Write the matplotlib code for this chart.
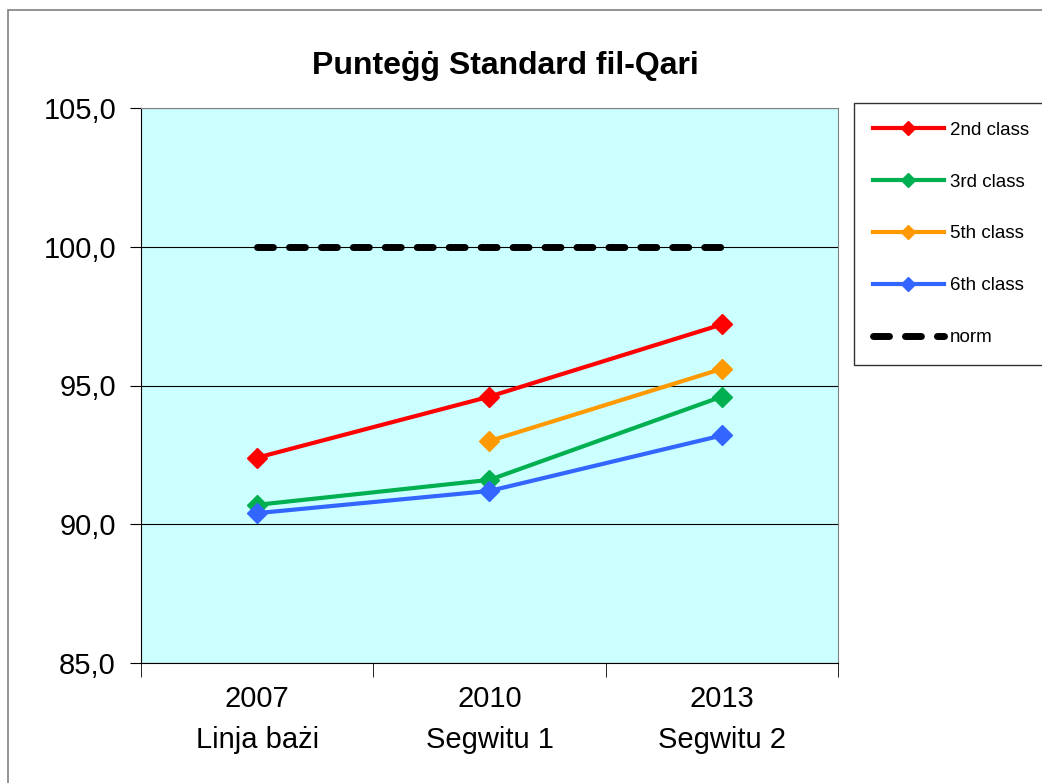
import matplotlib.pyplot as plt
from matplotlib.patches import Rectangle

plt.rcParams['font.family'] = ['Liberation Sans', 'DejaVu Sans']

years = ['2007', '2010', '2013']
stages = ['Linja bażi', 'Segwitu 1', 'Segwitu 2']
class2 = [92.4, 94.6, 97.2]
class3 = [90.7, 91.6, 94.6]
class5 = [None, 93.0, 95.6]
class6 = [90.4, 91.2, 93.2]
norm = [100.0, 100.0, 100.0]
yticks = [85, 90, 95, 100, 105]

fig = plt.figure(figsize=(10.42, 7.83), dpi=100)
fig.patches.append(Rectangle((8 / 1042, -0.1), 1.2, (783 - 10) / 783 + 0.1,
                             transform=fig.transFigure, fill=False,
                             edgecolor='#808080', linewidth=1.2))

ax = fig.add_axes([141 / 1042, 1 - 663 / 783, 697 / 1042, 555 / 783])
ax.set_facecolor('#CCFFFF')

x = list(range(len(years)))
series = [
    ('2nd class', class2, '#FF0000'),
    ('3rd class', class3, '#00B050'),
    ('5th class', class5, '#FF9900'),
    ('6th class', class6, '#3366FF'),
]
for name, vals, col in series:
    xs = [i for i, v in zip(x, vals) if v is not None]
    vs = [v for v in vals if v is not None]
    ax.plot(xs, vs, color=col, lw=3, marker='D', markersize=10, label=name,
            zorder=3)
ax.plot(x, norm, color='black', lw=5, dashes=(2.3, 2.3), label='norm',
        dash_capstyle='round', zorder=3)

ax.set_xlim(-0.5, 2.5)
ax.set_ylim(85, 105)
ax.set_yticks(yticks)
ax.set_yticklabels([f'{v:.1f}'.replace('.', ',') for v in yticks], fontsize=21)
ax.yaxis.grid(True, color='black', lw=0.8)
ax.set_axisbelow(True)

ax.set_xticks(x)
ax.set_xticklabels([f'{y}\n{s}' for y, s in zip(years, stages)], fontsize=21,
                   linespacing=1.6)
ax.set_xticks([-0.5, 0.5, 1.5, 2.5], minor=True)
ax.tick_params(axis='x', which='major', length=0, pad=16)
ax.tick_params(axis='x', which='minor', length=10, direction='out')
ax.tick_params(axis='y', length=8, direction='out', pad=10)

for s in ['top', 'right']:
    ax.spines[s].set_color('#808080')
for s in ['left', 'bottom']:
    ax.spines[s].set_color('black')

fig.text(505 / 1042, 1 - 66 / 783, 'Punteġġ Standard fil-Qari', fontsize=23,
         fontweight='bold', ha='center', va='center')

leg = ax.legend(loc='upper left', bbox_to_anchor=(854 / 1042, 1 - 365 / 783,
                                                  0.2, 262 / 783),
                bbox_transform=fig.transFigure, mode='expand',
                fontsize=13.5, frameon=True, fancybox=False,
                edgecolor='black', handlelength=3.8, labelspacing=1.85,
                borderpad=1.0, borderaxespad=0, handletextpad=0.3)
leg.get_frame().set_linewidth(1.0)
for h in leg.legend_handles:
    h.set_markersize(7)

fig.savefig('out.png', dpi=100)
